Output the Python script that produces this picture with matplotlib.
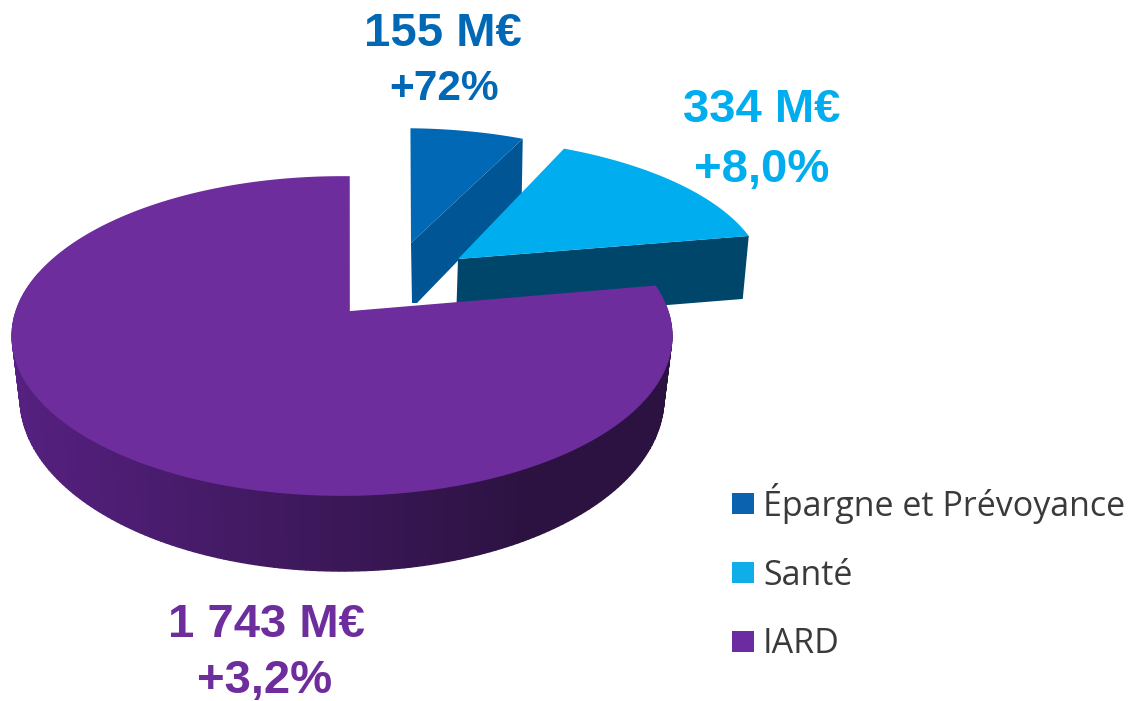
import matplotlib as mpl
import numpy as np
mpl.use('Agg')
import matplotlib.pyplot as plt
from matplotlib.patches import Polygon, Rectangle
from matplotlib.colors import to_rgb

categories = ['Épargne et Prévoyance', 'Santé', 'IARD']
values = [155, 334, 1743]
amount_labels = ['155 M€', '334 M€', '1 743 M€']
growth_labels = ['+72%', '+8,0%', '+3,2%']

top_colors = ['#0068B4', '#00ADEE', '#6E2D9D']
side_colors = ['#005595', '#00466A']
legend_colors = ['#0B62AE', '#0FAEE8', '#6A2CA0']

W, H = 1135, 701
plt.rcParams['font.family'] = ['Liberation Sans', 'DejaVu Sans']

fig = plt.figure(figsize=(W / 100, H / 100), dpi=100)
ax = fig.add_axes([0, 0, 1, 1])
ax.set_xlim(0, W)
ax.set_ylim(H, 0)
ax.axis('off')

# slice angles, clockwise from 12 o'clock
start_angle = 1.4
angles = start_angle + np.concatenate([[0], np.cumsum(values)]) / sum(values) * 360


def rim(a0, a1, apex, sx=1.0, sy=1.0, off=-7.0, n=200):
    # perspective view of the disc rim, relative to the slice apex
    t = np.radians(np.linspace(a0, a1, n))
    k = 0.151
    x = 326 * np.sin(t) / (1 + k * np.cos(t))
    y = -155.4 * np.cos(t) / (1 + k * np.cos(t))
    return np.column_stack([apex[0] + sx * x + off, apex[1] + sy * y])


# blue slice
apex = (411, 243)
pts = rim(angles[0], angles[1], apex, sx=0.93, sy=0.85)
end = pts[-1]
ax.add_patch(Polygon([apex, end, (end[0] - 1, end[1] + 56), (417, 303), (412, 303)],
                     fc=side_colors[0], ec='none', zorder=2))
ax.add_patch(Polygon(np.vstack([[apex], pts]), fc=top_colors[0], ec='none', zorder=3))

# cyan slice
apex = (458, 259)
pts = rim(angles[1], angles[2], apex, sx=0.995, sy=0.9, off=-21)
end = pts[-1]
ax.add_patch(Polygon([apex, end, (end[0] - 6, end[1] + 63), (456, 322)],
                     fc=side_colors[1], ec='none', zorder=4))
ax.add_patch(Polygon(np.vstack([[apex], pts]), fc=top_colors[1], ec='none', zorder=5))

# purple slice, side shaded left to right (only the front part shows)
apex = (349, 312)
pts = rim(angles[2], angles[3], apex)
side = rim(85, 285, apex)
low = np.column_stack([342 + (side[:, 0] - 342) * 0.976, 398 + (side[:, 1] - 336) * 1.088])
c_left = np.array(to_rgb('#55207F'))
c_right = np.array(to_rgb('#2B1240'))
for i in range(len(side) - 1):
    f = np.clip((side[i, 0] - 20) / 520, 0, 1)
    col = c_left + (c_right - c_left) * f
    ax.add_patch(Polygon([side[i], side[i + 1], low[i + 1], low[i]],
                         fc=col, ec=col, lw=1.0, zorder=6))
ax.add_patch(Polygon(np.vstack([[apex], pts]), fc=top_colors[2], ec=top_colors[2], lw=1.2, zorder=7))

# value labels
amount_pos = [(443, 46), (762, 122), (266, 637)]
growth_pos = [(444, 100), (762, 182), (265, 693)]
growth_size = [30.5, 34, 34]
for i in range(3):
    ax.text(amount_pos[i][0], amount_pos[i][1], amount_labels[i], color=top_colors[i],
            fontsize=34, fontweight='bold', ha='center', va='baseline', zorder=9)
    ax.text(growth_pos[i][0], growth_pos[i][1], growth_labels[i], color=top_colors[i],
            fontsize=growth_size[i], fontweight='bold', ha='center', va='baseline', zorder=9)

# legend
legend_y = [504, 573, 642]
legend_base = [516, 585, 653]
for i in range(3):
    ax.add_patch(Rectangle((732, legend_y[i] - 11), 22, 21, fc=legend_colors[i], ec='none'))
    ax.text(763, legend_base[i], categories[i], color='#3A3A3A', fontsize=24.5,
            family=['Open Sans', 'DejaVu Sans'], ha='left', va='baseline', zorder=9)

plt.savefig('out.png', dpi=100)
